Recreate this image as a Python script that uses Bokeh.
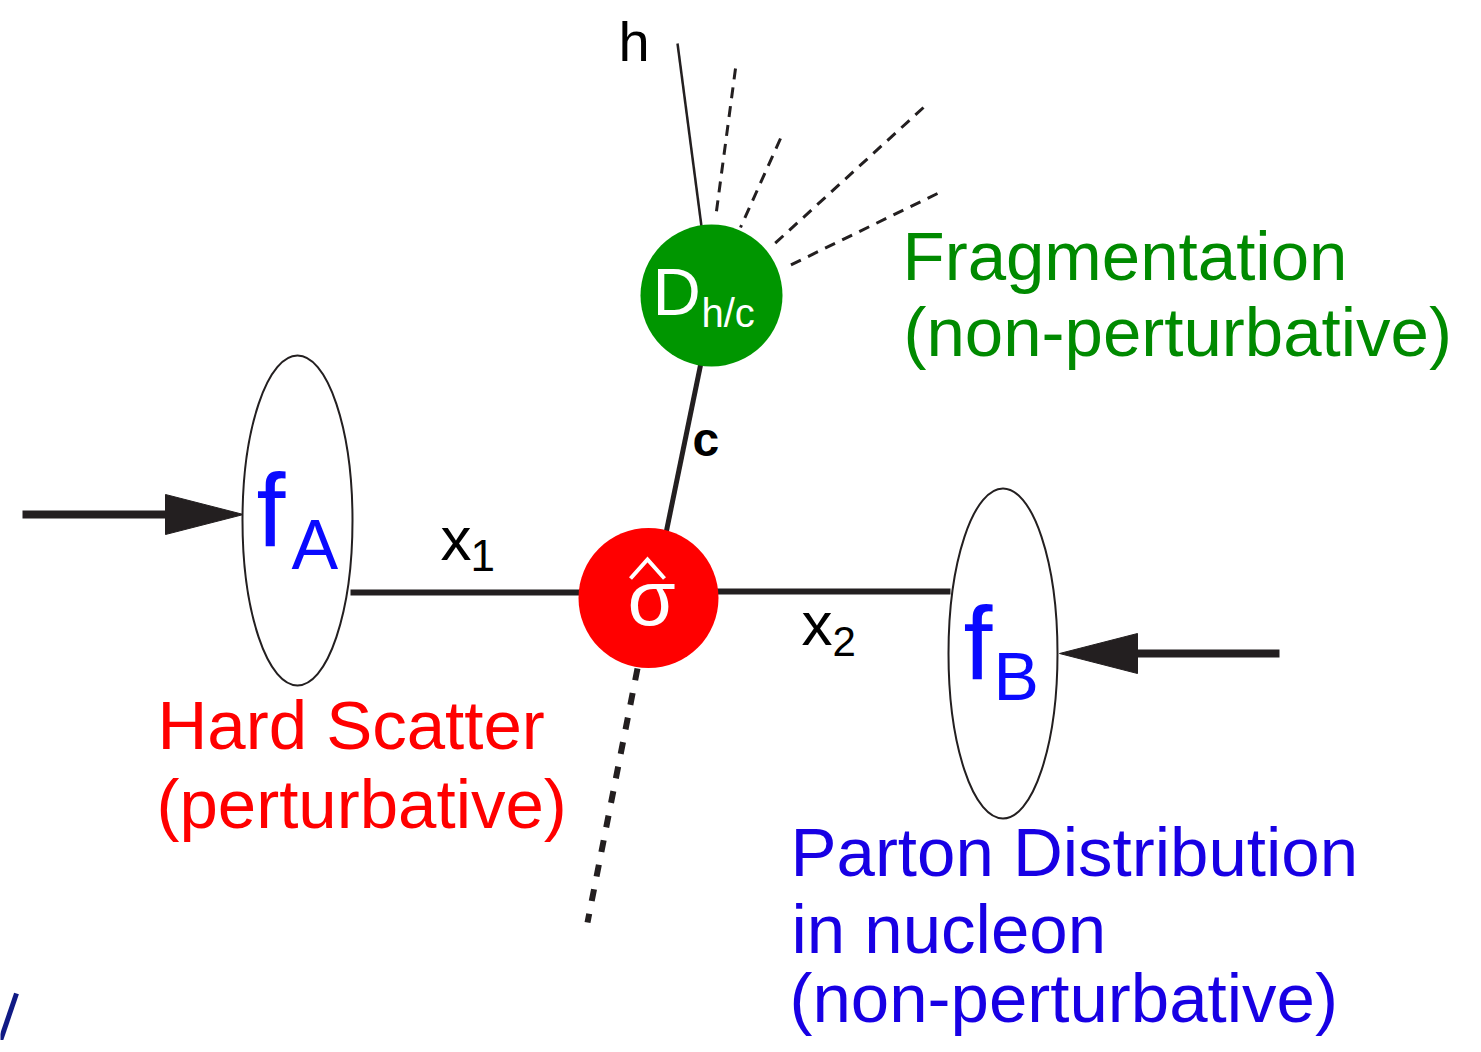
from bokeh.plotting import figure
from bokeh.models import Range1d
from bokeh.core.properties import value
from bokeh.embed import file_html
from bokeh.resources import INLINE

# ---------------- diagram data (pixel-like layout units) ----------------
FONT = "Liberation Sans"
INK = "#231f20"
RED = "#ff0000"
GREEN_FILL = "#009600"
GREEN_TEXT = "#008a00"
BLUE_TEXT = "#1800e4"
BLUE_F = "#0a0aff"

# incoming beam arrows: shaft start, shaft end, tip, head half-width
arrow_left = dict(x0=22, x1=168, tip=243, y=514, half=20)
arrow_right = dict(x0=1279, x1=1134, tip=1059, y=653, half=20)

# parton distribution ellipses
ell_x = [297, 1002.5]
ell_y = [520, 653]
ell_w = [110, 109]
ell_h = [330, 330]

# blobs: hard scatter, fragmentation
blob_x = [648, 711]
blob_y = [597.5, 295]
blob_r = [70, 71]
blob_col = [RED, GREEN_FILL]

# parton lines
x1_line = ([350, 585], [592, 592])
x2_line = ([712, 950], [591, 591])
c_line = ([702, 664], [355, 540])
h_line = ([677, 701], [43, 226])
recoil_line = ([637, 587], [668, 922])

# fragmentation jets (dashed)
jets_x = [[735, 715], [780, 740], [923, 770], [937, 785]]
jets_y = [[68, 218], [138, 227], [107, 247], [193, 267]]

# label texts
labels = [
    # text, x, y(baseline), size, color, style
    ("Fragmentation", 902, 283, 69, GREEN_TEXT, "normal"),
    ("(non-perturbative)", 903, 359, 69, GREEN_TEXT, "normal"),
    ("Hard Scatter", 157, 752, 69, RED, "normal"),
    ("(perturbative)", 156, 831, 69, RED, "normal"),
    ("Parton Distribution", 790, 879, 69, BLUE_TEXT, "normal"),
    ("in nucleon", 791, 956, 69, BLUE_TEXT, "normal"),
    ("(non-perturbative)", 789, 1025, 69, BLUE_TEXT, "normal"),
    ("h", 618, 63, 56, "black", "normal"),
    ("c", 692, 458, 48, "black", "bold"),
    ("x", 440, 562, 62, "black", "normal"),
    ("1", 470, 572, 44, "black", "normal"),
    ("x", 801, 647, 62, "black", "normal"),
    ("2", 832, 657, 42, "black", "normal"),
    ("f", 256, 550, 104, BLUE_F, "normal"),
    ("A", 291, 572, 70, BLUE_F, "normal"),
    ("f", 963, 683, 104, BLUE_F, "normal"),
    ("B", 993, 702, 68, BLUE_F, "normal"),
    ("D", 652, 317, 67, "white", "normal"),
    ("h/c", 701, 328, 40, "white", "normal"),
]
sigma = ("σ", 651, 628, 78)
hat_x = [630, 647, 664]
hat_y = [578, 559, 578]

BASELINE_FIX = 0.39  # renderer places "alphabetic" text lower by ~0.39 em

# ---------------- figure ----------------
W, H = 1465, 1040
p = figure(width=W, height=H, x_range=Range1d(0, W), y_range=Range1d(H, 0),
           output_backend="svg", toolbar_location=None,
           x_axis_location=None, y_axis_location=None, min_border=0)
p.grid.visible = False
p.outline_line_color = None
p.background_fill_color = "white"
p.border_fill_color = "white"

# arrows
for a in (arrow_left, arrow_right):
    p.line([a["x0"], a["x1"]], [a["y"], a["y"]], line_width=8, line_color=INK)
    back = a["x1"] + (3 if a["tip"] < a["x1"] else -3)
    p.patch([back, a["tip"], back],
            [a["y"] - a["half"], a["y"], a["y"] + a["half"]],
            fill_color=INK, line_color=INK, line_width=1)

# parton lines
p.line(*x1_line, line_width=6, line_color=INK)
p.line(*x2_line, line_width=6, line_color=INK)
p.line(*c_line, line_width=5, line_color=INK)
p.line(*h_line, line_width=2.5, line_color=INK)
p.line(*recoil_line, line_width=6, line_color=INK, line_dash="12 13")
p.multi_line(jets_x, jets_y, line_width=3, line_color=INK, line_dash="11 8")

# bottom-left cropped glyph
p.line([16, 0], [993, 1040], line_width=5, line_color="#101a85")

# ellipses
p.ellipse(x=ell_x, y=ell_y, width=ell_w, height=ell_h,
          fill_color="white", line_color=INK, line_width=2)

# blobs
p.circle(x=blob_x, y=blob_y, radius=blob_r, fill_color=blob_col, line_color=None)

# texts
for t, x, y, s, c, st in labels:
    p.text(x=[x], y=[y - BASELINE_FIX * s], text=[t], text_font=value(FONT),
           text_font_size=f"{s}px", text_color=c, text_font_style=st,
           text_baseline="alphabetic", text_align="left")

p.text(x=[sigma[1]], y=[sigma[2] - BASELINE_FIX * sigma[3]], text=[sigma[0]],
       text_font=value(FONT), text_font_size=f"{sigma[3]}px", text_color="white",
       text_baseline="alphabetic", text_align="center")
p.line(hat_x, hat_y, line_width=4, line_color="white", line_join="miter")

open("out.html", "w").write(file_html(p, INLINE))
